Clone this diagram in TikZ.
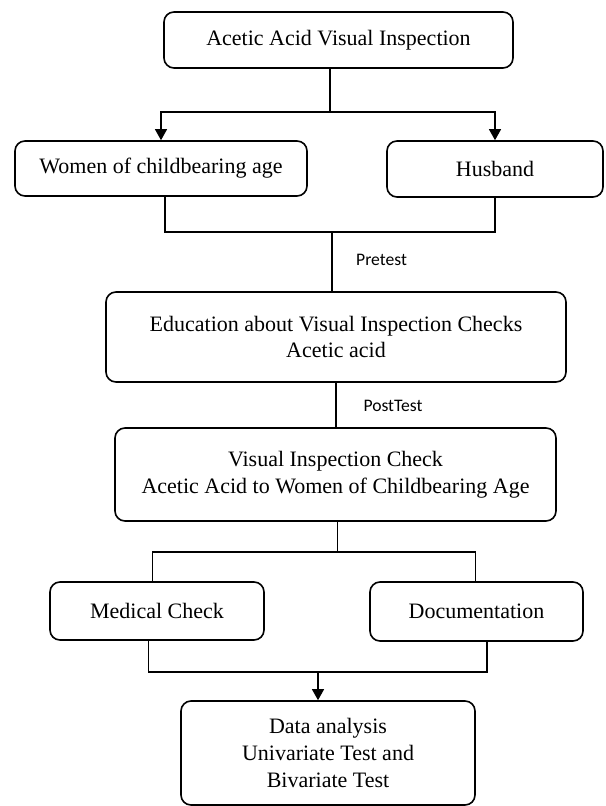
\documentclass[tikz,border=0pt]{standalone}
\usepackage{fontspec}
\setmainfont{Liberation Serif}
\newfontfamily\labelfont{Carlito}
\usetikzlibrary{arrows.meta}

\tikzset{
	stepbox/.style={draw, line width=0.8pt, rounded corners=5pt, align=center, inner sep=0pt,
		font=\fontsize{11}{13.3}\selectfont},
	link/.style={line width=0.6pt},
	linkarrow/.style={link, -{Triangle[width=6pt,length=5.5pt]}},
	testlabel/.style={font=\labelfont\fontsize{8.8}{10}\selectfont, inner sep=0pt}
}

\begin{document}
\begin{tikzpicture}[x=0.5pt,y=-0.5pt]
	\useasboundingbox (0,0) rectangle (605,806);
	\node[stepbox, minimum width=174.5pt, minimum height=28pt] (acetic) at (338.5,40) {Acetic Acid Visual Inspection};
	\node[stepbox, minimum width=146pt, minimum height=27.5pt] (women) at (161,168.5) {Women of childbearing age};
	\node[stepbox, minimum width=108pt, minimum height=28pt] (husband) at (495,169) {Husband};
	\node[stepbox, minimum width=230pt, minimum height=45pt] (educ) at (336,337) {Education about Visual Inspection Checks\\Acetic acid};
	\node[stepbox, minimum width=220.5pt, minimum height=46.5pt] (vicheck) at (335.5,474.5) {Visual Inspection Check\\Acetic Acid to Women of Childbearing Age};
	\node[stepbox, minimum width=107pt, minimum height=29pt] (medical) at (157,611) {Medical Check};
	\node[stepbox, minimum width=106.5pt, minimum height=29.5pt] (docu) at (476.5,611.5) {Documentation};
	\node[stepbox, minimum width=147pt, minimum height=52pt] (analysis) at (328,753) {Data analysis\\Univariate Test and\\Bivariate Test};

	\node[testlabel] (pretest) at (381.5,260) {Pretest};
	\node[testlabel] (posttest) at (393,406) {PostTest};

	\coordinate (fork1) at (330,112);
	\coordinate (join1) at (332,232);
	\coordinate (fork2) at (337.6,552);
	\coordinate (join2) at (318,672);

	% top to the two groups
	\draw[link] (fork1 |- acetic.south) -- (fork1);
	\draw[linkarrow] (fork1) -| (women.north);
	\draw[linkarrow] (fork1) -| (husband.north);
	% groups to education
	\draw[link] ([xshift=2pt]women.south) |- (join1) -| (husband.south);
	\draw[link] (join1) -- (join1 |- educ.north);
	\draw[link] (educ.south) -- (educ.south |- vicheck.north);
	% check to medical and documentation
	\draw[link] (fork2 |- vicheck.south) -- (fork2);
	\draw[link] (fork2) -| ([xshift=-2.3pt]medical.north);
	\draw[link] (fork2) -| ([xshift=-0.7pt]docu.north);
	% into data analysis
	\draw[link] ([xshift=-4.2pt]medical.south) |- (join2) -| ([xshift=5.2pt]docu.south);
	\draw[linkarrow] (join2) -- (join2 |- analysis.north);
\end{tikzpicture}
\end{document}
